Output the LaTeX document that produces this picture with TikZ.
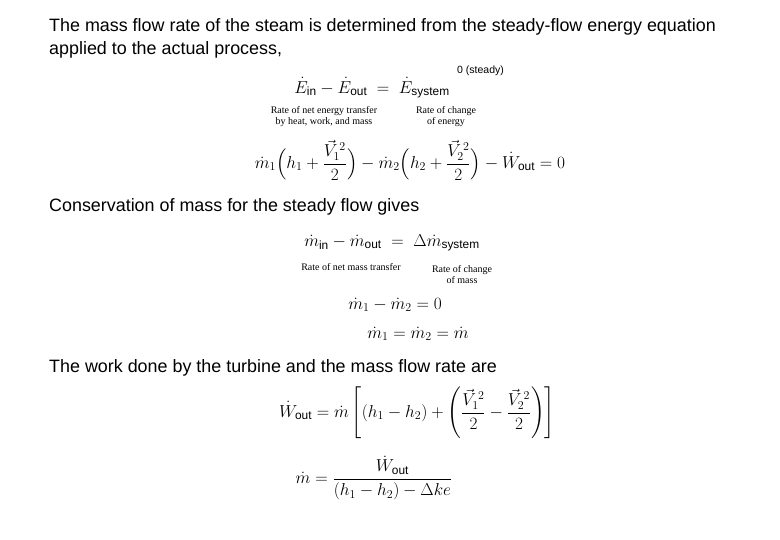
\documentclass[tikz,border=0pt]{standalone}
\usepackage{amsmath}
\usepackage{fontspec}
\setmainfont{Liberation Sans}
\newfontfamily\serifx{Liberation Serif}
\begin{document}
\begin{tikzpicture}[x=1pt,y=-1pt,
  head/.style={anchor=west,inner sep=0pt,font=\fontsize{17.9}{21}\selectfont},
  eq/.style={inner sep=0pt,font=\fontsize{17}{20}\selectfont},
  lbl/.style={inner sep=0pt,align=center,font=\serifx\fontsize{10}{11}\selectfont}]
\useasboundingbox[fill=white] (0,0) rectangle (780,540);
\node[head] (t1) at (49,27) {The mass flow rate of the steam is determined from the steady-flow energy equation};
\node[head] (t2) at (49,50) {applied to the actual process,};
\node[inner sep=0pt,anchor=west,font=\fontsize{10.5}{12}\selectfont] (st) at (457,71) {0 (steady)};
\node[eq] (e1) at (372,88) {$\dot E_{\rm in}-\dot E_{\rm out}\;=\;\dot E_{\rm system}$};
\node[lbl] (l1a) at (324,117) {Rate of net energy transfer\\by heat, work, and mass};
\node[lbl] (l1b) at (446,117) {Rate of change\\of energy};
\node[eq] (e2) at (410,160) {$\dot m_1\Big(h_1+\dfrac{\vec V_1^{\,2}}{2}\Big)-\dot m_2\Big(h_2+\dfrac{\vec V_2^{\,2}}{2}\Big)-\dot W_{\rm out}=0$};
\node[head] (t3) at (49,207) {Conservation of mass for the steady flow gives};
\node[eq] (e3) at (392,243) {$\dot m_{\rm in}-\dot m_{\rm out}\;=\;\Delta\dot m_{\rm system}$};
\node[lbl] (l3a) at (351,267) {Rate of net mass transfer};
\node[lbl] (l3b) at (462,275) {Rate of change\\of mass};
\node[eq] (e4) at (395,305) {$\dot m_1-\dot m_2=0$};
\node[eq] (e5) at (418,334) {$\dot m_1=\dot m_2=\dot m$};
\node[head] (t4) at (49,368) {The work done by the turbine and the mass flow rate are};
\node[eq] (e6) at (417,413) {$\dot W_{\rm out}=\dot m\left[(h_1-h_2)+\left(\dfrac{\vec V_1^{\,2}}{2}-\dfrac{\vec V_2^{\,2}}{2}\right)\right]$};
\node[eq] (e7) at (374,478) {$\dot m=\dfrac{\dot W_{\rm out}}{(h_1-h_2)-\Delta ke}$};
\end{tikzpicture}
\end{document}
